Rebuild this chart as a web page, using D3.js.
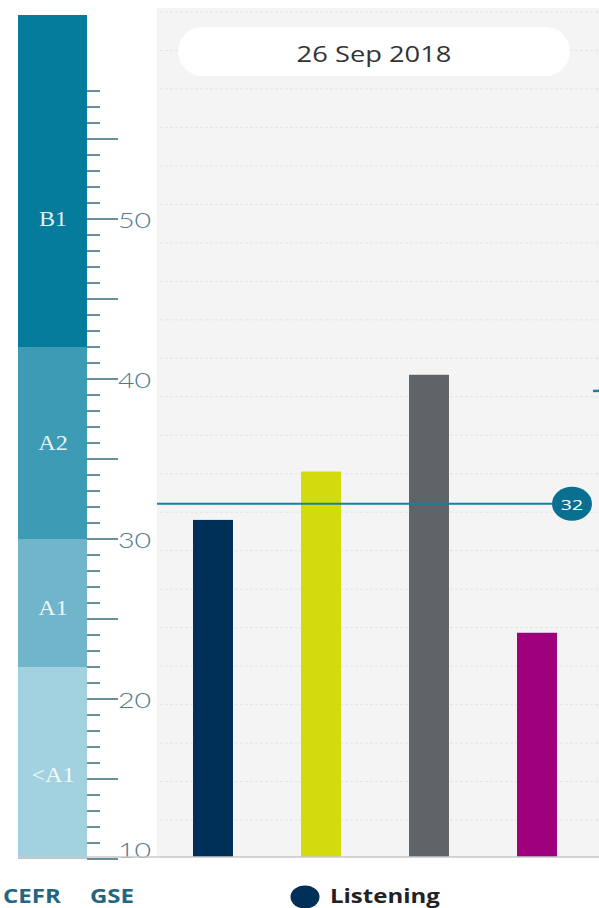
<!DOCTYPE html>
<html>
<head>
<meta charset="utf-8">
<script src="https://cdn.jsdelivr.net/npm/d3@7"></script>
<style>
  body { margin: 0; background: #fff; }
  svg { display: block; }
</style>
</head>
<body>
<div id="chart"></div>
<script>
// chart values
var skills = ["Listening", "Reading", "Speaking", "Writing"];
var scores = [31, 34, 40, 24];
var barColors = ["#003057", "#d2db0e", "#5f6468", "#9e007e"];
var targetScore = 32;
var sideMarker = 39;
var dateLabel = "26 Sep 2018";

var cefrLevels = ["<A1", "A1", "A2", "B1"];
var cefrFrom = [10, 22, 30, 42];
var cefrTo = [22, 30, 42, 62.75];
var cefrColors = ["#a2d2df", "#71b5ca", "#3d9bb6", "#067c9d"];
var gseLabels = [10, 20, 30, 40, 50];

var width = 599, height = 908;
var stretch = 1.3; // text in the original is drawn wider than tall

var svg = d3.select("#chart")
    .append("svg")
    .attr("width", width)
    .attr("height", height);

// GSE scale on the left and the scale of the bar plot
var yGse = d3.scaleLinear().domain([10, 62.75]).range([859, 15]);
var yPlot = d3.scaleLinear().domain([10, 62.5]).range([858.5, 12]);
var x = d3.scaleBand()
    .domain(skills)
    .range([159, 591])
    .paddingInner(0.63)
    .paddingOuter(0.315);

var baseY = 857;

// plot background
svg.append("rect")
    .attr("x", 157)
    .attr("y", 8)
    .attr("width", width - 157)
    .attr("height", baseY - 8)
    .attr("fill", "#f4f4f4");

// dashed grid
var gridVals = d3.range(0, 23).map(function (i) {
    return 10 + i * (52.5 / 22);
});
svg.append("g")
    .selectAll("line")
    .data(gridVals.slice(1))
    .enter()
    .append("line")
    .attr("x1", 160)
    .attr("x2", width)
    .attr("y1", function (d) { return yPlot(d); })
    .attr("y2", function (d) { return yPlot(d); })
    .attr("stroke", "#e3e3e3")
    .attr("stroke-dasharray", "3,2");

// date pill
svg.append("rect")
    .attr("x", 178)
    .attr("y", 27)
    .attr("width", 392)
    .attr("height", 49)
    .attr("rx", 24.5)
    .attr("fill", "#fff");

svg.append("text")
    .attr("transform", "translate(374,62) scale(" + stretch + ",1)")
    .attr("text-anchor", "middle")
    .attr("font-family", "'Open Sans', sans-serif")
    .attr("font-size", 21)
    .attr("fill", "#333")
    .text(dateLabel);

// CEFR column
var cefr = svg.append("g");
cefr.selectAll("rect")
    .data(cefrLevels)
    .enter()
    .append("rect")
    .attr("x", 18)
    .attr("width", 69)
    .attr("y", function (d, i) { return yGse(cefrTo[i]); })
    .attr("height", function (d, i) { return yGse(cefrFrom[i]) - yGse(cefrTo[i]); })
    .attr("fill", function (d, i) { return cefrColors[i]; });

cefr.selectAll("text")
    .data(cefrLevels)
    .enter()
    .append("text")
    .attr("transform", function (d, i) {
        var mid = (cefrFrom[i] + Math.min(cefrTo[i], 58)) / 2;
        var ty = yGse(mid) + (i === 0 ? 12 : i === 1 ? 5 : 0);
        return "translate(53," + ty + ") scale(1.15,1)";
    })
    .attr("text-anchor", "middle")
    .attr("dominant-baseline", "central")
    .attr("font-family", "'Liberation Serif', 'DejaVu Serif', serif")
    .attr("font-size", 21)
    .attr("fill", "#fff")
    .attr("fill-opacity", 0.9)
    .text(function (d) { return d; });

// GSE ticks
var tickVals = d3.range(10, 59);
var ticks = svg.append("g");
ticks.selectAll("line")
    .data(tickVals)
    .enter()
    .append("line")
    .attr("x1", 87)
    .attr("x2", function (d) { return d % 5 === 0 ? 118 : 100; })
    .attr("y1", function (d) { return yGse(d); })
    .attr("y2", function (d) { return yGse(d); })
    .attr("stroke", "#4f7b8b")
    .attr("stroke-width", 1.7);

ticks.selectAll("text")
    .data(gseLabels)
    .enter()
    .append("text")
    .attr("transform", function (d) {
        var ty = d === 10 ? yGse(d) - 10 : yGse(d);
        return "translate(118," + ty + ") scale(" + stretch + ",1)";
    })
    .attr("dominant-baseline", "central")
    .attr("font-family", "Lato, 'Open Sans', sans-serif")
    .attr("font-weight", 300)
    .attr("font-size", 22)
    .attr("fill", "#4f7b8b")
    .text(function (d) { return d; });

// bars
svg.append("g")
    .selectAll("rect")
    .data(scores)
    .enter()
    .append("rect")
    .attr("x", function (d, i) { return x(skills[i]); })
    .attr("width", x.bandwidth())
    .attr("y", function (d) { return yPlot(d); })
    .attr("height", function (d) { return baseY - yPlot(d); })
    .attr("fill", function (d, i) { return barColors[i]; });

// bottom rule
svg.append("line")
    .attr("x1", 18)
    .attr("x2", width)
    .attr("y1", baseY)
    .attr("y2", baseY)
    .attr("stroke", "#c9c9c9")
    .attr("stroke-width", 1.5);

// target line with badge
svg.append("line")
    .attr("x1", 157)
    .attr("x2", 556)
    .attr("y1", yPlot(targetScore))
    .attr("y2", yPlot(targetScore))
    .attr("stroke", "#1a7fa3")
    .attr("stroke-width", 2);

svg.append("ellipse")
    .attr("cx", 572)
    .attr("cy", yPlot(targetScore))
    .attr("rx", 20)
    .attr("ry", 17)
    .attr("fill", "#0a6f91");

svg.append("text")
    .attr("transform", "translate(572," + yPlot(targetScore) + ") scale(" + stretch + ",1)")
    .attr("text-anchor", "middle")
    .attr("dominant-baseline", "central")
    .attr("font-family", "'Open Sans', sans-serif")
    .attr("font-size", 15)
    .attr("fill", "#fff")
    .text(targetScore);

svg.append("line")
    .attr("x1", 593)
    .attr("x2", width)
    .attr("y1", yPlot(sideMarker))
    .attr("y2", yPlot(sideMarker))
    .attr("stroke", "#1a7fa3")
    .attr("stroke-width", 2.5);

// axis titles
var titles = [["CEFR", 3], ["GSE", 90]];
svg.selectAll(".axis-title")
    .data(titles)
    .enter()
    .append("text")
    .attr("class", "axis-title")
    .attr("transform", function (d) { return "translate(" + d[1] + ",903) scale(1.2,1)"; })
    .attr("font-family", "'Open Sans', sans-serif")
    .attr("font-weight", "bold")
    .attr("font-size", 20)
    .attr("fill", "#24667f")
    .text(function (d) { return d[0]; });

// legend
svg.append("ellipse")
    .attr("cx", 305)
    .attr("cy", 897)
    .attr("rx", 14.5)
    .attr("ry", 11.5)
    .attr("fill", barColors[0]);

svg.append("text")
    .attr("transform", "translate(330,903) scale(1.2,1)")
    .attr("font-family", "'Open Sans', sans-serif")
    .attr("font-weight", "bold")
    .attr("font-size", 20)
    .attr("fill", "#222")
    .text(skills[0]);
</script>
</body>
</html>
